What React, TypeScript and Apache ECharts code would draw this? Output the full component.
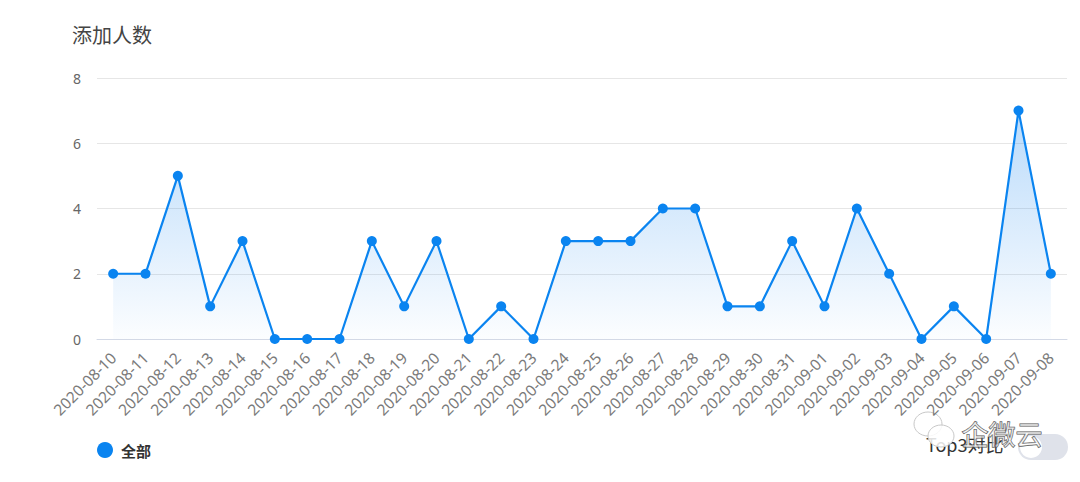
import React, { useEffect, useRef } from "react";
import * as echarts from "echarts";

const categories: string[] = [
  "2020-08-10", "2020-08-11", "2020-08-12", "2020-08-13", "2020-08-14",
  "2020-08-15", "2020-08-16", "2020-08-17", "2020-08-18", "2020-08-19",
  "2020-08-20", "2020-08-21", "2020-08-22", "2020-08-23", "2020-08-24",
  "2020-08-25", "2020-08-26", "2020-08-27", "2020-08-28", "2020-08-29",
  "2020-08-30", "2020-08-31", "2020-09-01", "2020-09-02", "2020-09-03",
  "2020-09-04", "2020-09-05", "2020-09-06", "2020-09-07", "2020-09-08",
];
const allValues: number[] = [
  2, 2, 5, 1, 3, 0, 0, 0, 3, 1, 3, 0, 1, 0, 3, 3, 3, 4, 4, 1, 1, 3, 1, 4, 2, 0, 1, 0, 7, 2,
];
const seriesName = "全部";
const title = "添加人数";
const compareLabel = "Top3对比";
const watermark = "企微云";

const FONT = "'Noto Sans CJK SC', 'Noto Sans', sans-serif";
const LABEL_FONT = "'Noto Sans', 'Noto Sans CJK SC', sans-serif";

export default function App() {
  const ref = useRef<HTMLDivElement>(null);
  useEffect(() => {
    if (!ref.current) return;
    const chart = echarts.init(ref.current, null, { renderer: "svg" });
    chart.setOption({
      animation: false,
      backgroundColor: "#ffffff",
      textStyle: { fontFamily: FONT },
      title: {
        text: title,
        left: 67,
        top: 19,
        textStyle: { fontSize: 20, fontWeight: "normal", color: "#444", fontFamily: FONT },
      },
      legend: {
        data: [{ name: seriesName, icon: "circle" }],
        left: 92,
        top: 437,
        itemWidth: 16,
        itemHeight: 16,
        itemGap: 10,
        textStyle: { fontSize: 15, fontWeight: "bold", color: "#333", fontFamily: FONT, padding: [0, 0, 0, 3] },
      },
      grid: { left: 97, right: 13, top: 78, bottom: 143, containLabel: false },
      xAxis: {
        type: "category",
        data: categories,
        boundaryGap: true,
        axisLine: { lineStyle: { color: "#d3d9e6" } },
        axisTick: { show: false },
        axisLabel: {
          rotate: 45,
          interval: 0,
          color: "#7a7a7a",
          fontSize: 15.5,
          margin: 16,
          fontFamily: LABEL_FONT,
        },
      },
      yAxis: {
        type: "value",
        min: 0,
        max: 8,
        interval: 2,
        axisLine: { show: false },
        axisTick: { show: false },
        axisLabel: { color: "#666", fontSize: 14, margin: 16, fontFamily: LABEL_FONT },
        splitLine: { lineStyle: { color: "#e6e6e6" } },
      },
      series: [
        {
          name: seriesName,
          type: "line",
          data: allValues,
          symbol: "circle",
          symbolSize: 10,
          itemStyle: { color: "#0a84f0" },
          lineStyle: { color: "#0a84f0", width: 2.2 },
          areaStyle: {
            color: new echarts.graphic.LinearGradient(0, 0, 0, 1, [
              { offset: 0, color: "rgba(20,132,240,0.42)" },
              { offset: 1, color: "rgba(20,132,240,0.02)" },
            ]),
          },
        },
      ],
      graphic: [
        {
          type: "text",
          left: 926,
          top: 435,
          style: { text: compareLabel, fontSize: 18, fill: "#333", fontFamily: FONT },
        },
        {
          type: "rect",
          shape: { x: 1018, y: 434, width: 50, height: 26, r: 13 },
          style: { fill: "#dfe2ea" },
        },
        {
          type: "circle",
          shape: { cx: 1031, cy: 447, r: 11 },
          style: { fill: "#ffffff" },
        },
        {
          type: "ellipse",
          shape: { cx: 928, cy: 424, rx: 14, ry: 12 },
          style: { fill: "rgba(255,255,255,0.85)", stroke: "#c8c8c8", lineWidth: 1 },
        },
        {
          type: "ellipse",
          shape: { cx: 941, cy: 436, rx: 13, ry: 11 },
          style: { fill: "rgba(255,255,255,0.85)", stroke: "#c8c8c8", lineWidth: 1 },
        },
        {
          type: "text",
          left: 961,
          top: 419,
          style: {
            text: watermark,
            fontSize: 27,
            fill: "rgba(255,255,255,0.55)",
            stroke: "#555",
            lineWidth: 1,
            fontFamily: FONT,
          },
        },
      ],
    });
    return () => chart.dispose();
  }, []);
  return <div ref={ref} style={{ width: 1080, height: 482, position: "absolute", left: 0, top: 0 }} />;
}
